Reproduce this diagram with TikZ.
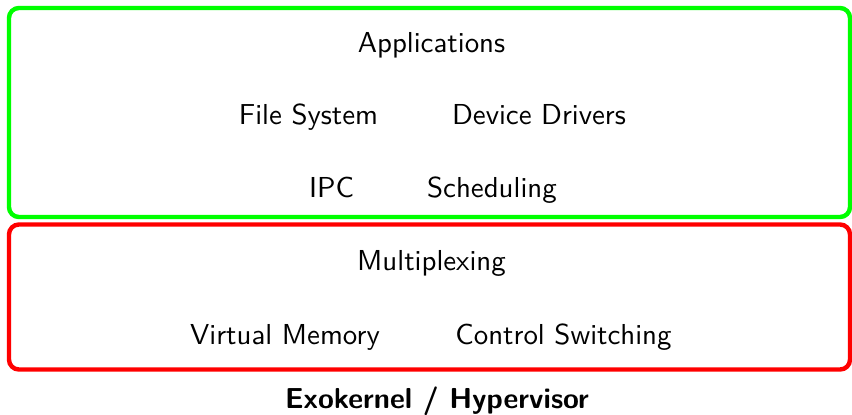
\documentclass[tikz,border=0pt]{standalone}
\begin{document}
\begin{tikzpicture}[x=0.36364pt,y=-0.36364pt,
  lbl/.style={font=\sffamily\fontsize{10.5}{12.6}\selectfont,anchor=base,inner sep=0pt},
  layerbox/.style={line width=1.6pt,rounded corners=3.6pt}]
\useasboundingbox (0,0) rectangle (852,414);
\definecolor{boxgreen}{RGB}{0,255,0}
\definecolor{boxred}{RGB}{255,0,0}
\draw[layerbox,draw=boxgreen] (9,8) rectangle (850,217);
\draw[layerbox,draw=boxred] (9,224.5) rectangle (850,369.5);
\node[lbl] (apps) at (431.5,52) {Applications};
\node[lbl] (fs) at (308.5,124) {File System};
\node[lbl] (dd) at (539,124) {Device Drivers};
\node[lbl] (ipc) at (331.5,197) {IPC};
\node[lbl] (sched) at (492,197) {Scheduling};
\node[lbl] (mux) at (431.5,270) {Multiplexing};
\node[lbl] (vm) at (285,344) {Virtual Memory};
\node[lbl] (cs) at (563.5,344) {Control Switching};
\node[lbl,font=\sffamily\bfseries\fontsize{10.5}{12.6}\selectfont] (exo) at (437,408) {Exokernel / Hypervisor};
\end{tikzpicture}
\end{document}
